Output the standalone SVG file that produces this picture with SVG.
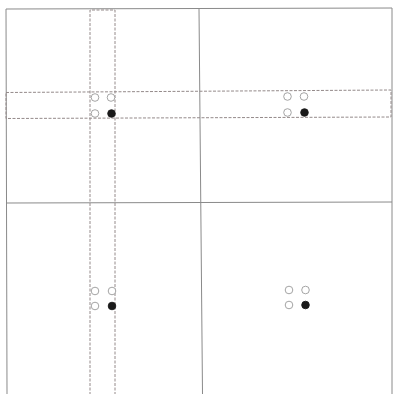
<svg xmlns="http://www.w3.org/2000/svg" width="393" height="394" viewBox="0 0 393 394">
<style>
.solid{stroke:#8a8a8a;stroke-width:1;fill:none}
.dash{stroke:#948a8a;stroke-width:1;fill:none;stroke-dasharray:3 1.5}
.open{fill:#fff;stroke:#9a9a9a;stroke-width:0.9}
.filled{fill:#1a1a1a;stroke:#1a1a1a;stroke-width:0.9}
</style>
<rect width="393" height="394" fill="#fff"/>
<g id="connectors">
<polyline class="solid" points="7,394 6,9 392,8 392,394"/>
<line class="solid" x1="199" y1="9" x2="202.5" y2="394"/>
<line class="solid" x1="7" y1="203" x2="392" y2="202"/>
<polyline class="dash" points="90,395 90,10 115,10 115,395"/>
<polygon class="dash" points="6,92.5 391,90 391,117 6,118.5"/>
</g>
<g id="quad-tl">
<circle class="open" cx="95" cy="97.5" r="3.8"/>
<circle class="open" cx="111" cy="97.5" r="3.8"/>
<circle class="open" cx="95" cy="113.5" r="3.8"/>
<circle class="filled" cx="111.5" cy="113.5" r="3.8"/>
</g>
<g id="quad-tr">
<circle class="open" cx="287.5" cy="96.5" r="3.8"/>
<circle class="open" cx="304" cy="96.5" r="3.8"/>
<circle class="open" cx="287.5" cy="112.5" r="3.8"/>
<circle class="filled" cx="304.5" cy="112.5" r="3.8"/>
</g>
<g id="quad-bl">
<circle class="open" cx="95" cy="291" r="3.8"/>
<circle class="open" cx="112" cy="291" r="3.8"/>
<circle class="open" cx="95" cy="306" r="3.8"/>
<circle class="filled" cx="112" cy="306" r="3.8"/>
</g>
<g id="quad-br">
<circle class="open" cx="289" cy="290" r="3.8"/>
<circle class="open" cx="305.5" cy="290" r="3.8"/>
<circle class="open" cx="289" cy="305" r="3.8"/>
<circle class="filled" cx="305.5" cy="305" r="3.8"/>
</g>
</svg>
